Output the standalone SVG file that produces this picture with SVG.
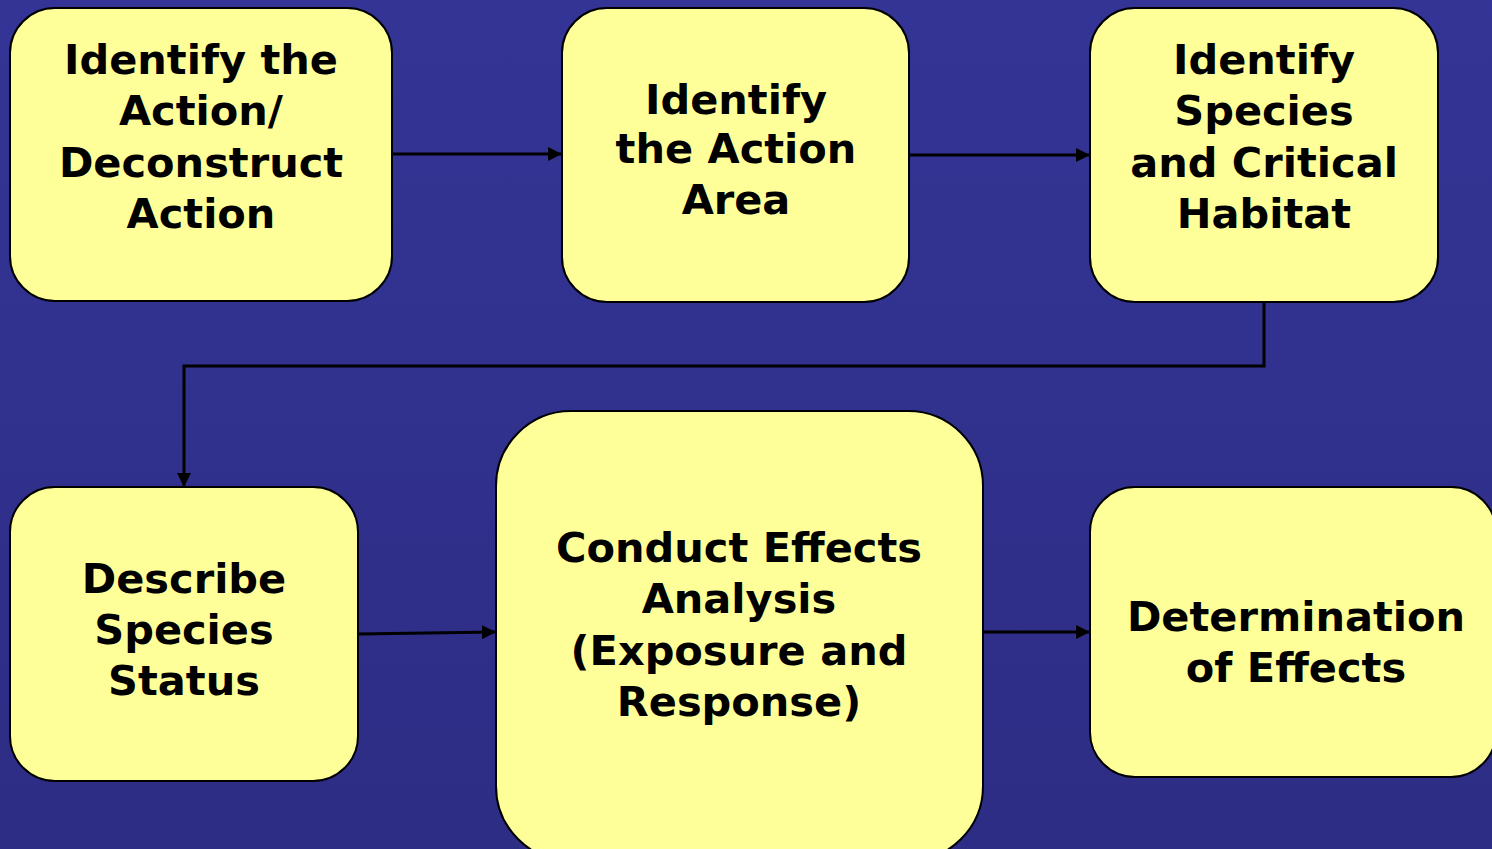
<svg xmlns="http://www.w3.org/2000/svg" width="1492" height="849" viewBox="0 0 1492 849">
<defs>
<linearGradient id="bg" x1="0" y1="0" x2="0" y2="1">
<stop offset="0" stop-color="#343496"/>
<stop offset="1" stop-color="#2d2d85"/>
</linearGradient>
<marker id="arr" viewBox="0 0 10 10" refX="10" refY="5" markerWidth="5" markerHeight="5" markerUnits="userSpaceOnUse" orient="auto" style="overflow:visible">
<path d="M0,0 L10,5 L0,10 z" fill="#000"/>
</marker>
<style>
.box{fill:#ffff99;stroke:#000;stroke-width:2}
.t{font-family:"DejaVu Sans","Verdana",sans-serif;font-weight:bold;font-size:41.5px;fill:#000;text-anchor:middle}
.c{fill:none;stroke:#000;stroke-width:3}
</style>
<marker id="a" viewBox="0 0 14 14" refX="14" refY="7" markerWidth="14" markerHeight="14" markerUnits="userSpaceOnUse" orient="auto">
<path d="M0,0 L14,7 L0,14 z" fill="#000"/>
</marker>
</defs>
<rect x="0" y="0" width="1492" height="849" fill="url(#bg)"/>
<g id="connectors">
<line class="c" x1="392" y1="154" x2="562" y2="154" marker-end="url(#a)"/>
<line class="c" x1="909" y1="155" x2="1090" y2="155" marker-end="url(#a)"/>
<polyline class="c" points="1264,302 1264,366 184,366 184,487" marker-end="url(#a)"/>
<line class="c" x1="358" y1="634" x2="496" y2="632" marker-end="url(#a)"/>
<line class="c" x1="983" y1="632" x2="1090" y2="632" marker-end="url(#a)"/>
</g>
<g id="n1">
<rect class="box" x="10" y="8" width="382" height="293" rx="45"/>
<text class="t"><tspan x="201" y="74">Identify the</tspan><tspan x="201" y="125">Action/</tspan><tspan x="201" y="177">Deconstruct</tspan><tspan x="201" y="228">Action</tspan></text>
</g>
<g id="n2">
<rect class="box" x="562" y="8" width="347" height="294" rx="45"/>
<text class="t"><tspan x="736" y="114">Identify</tspan><tspan x="736" y="163">the Action</tspan><tspan x="736" y="214">Area</tspan></text>
</g>
<g id="n3">
<rect class="box" x="1090" y="8" width="348" height="294" rx="45"/>
<text class="t"><tspan x="1264" y="74">Identify</tspan><tspan x="1264" y="125">Species</tspan><tspan x="1264" y="177">and Critical</tspan><tspan x="1264" y="228">Habitat</tspan></text>
</g>
<g id="n4">
<rect class="box" x="10" y="487" width="348" height="294" rx="45"/>
<text class="t"><tspan x="184" y="593">Describe</tspan><tspan x="184" y="644">Species</tspan><tspan x="184" y="695">Status</tspan></text>
</g>
<g id="n5">
<rect class="box" x="496" y="411" width="487" height="450" rx="75"/>
<text class="t"><tspan x="739" y="562">Conduct Effects</tspan><tspan x="739" y="613">Analysis</tspan><tspan x="739" y="665">(Exposure and</tspan><tspan x="739" y="716">Response)</tspan></text>
</g>
<g id="n6">
<rect class="box" x="1090" y="487" width="406" height="290" rx="45"/>
<text class="t"><tspan x="1296" y="631">Determination</tspan><tspan x="1296" y="682">of Effects</tspan></text>
</g>
</svg>
